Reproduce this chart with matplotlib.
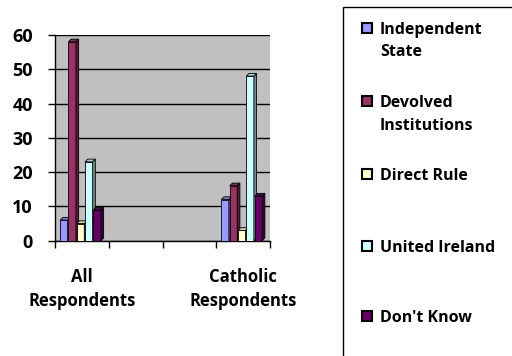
import matplotlib
matplotlib.use("Agg")
import matplotlib.pyplot as plt
from matplotlib.patches import Polygon, Rectangle
import matplotlib.colors as mcolors
import numpy as np

categories = ["All\nRespondents", "", "", "Catholic\nRespondents"]
series = ["Independent\nState", "Devolved\nInstitutions", "Direct Rule", "United Ireland", "Don't Know"]
values = {
    "Independent\nState":     [6, 0, 0, 12],
    "Devolved\nInstitutions": [58, 0, 0, 16],
    "Direct Rule":            [5, 0, 0, 3],
    "United Ireland":         [23, 0, 0, 48],
    "Don't Know":             [9, 0, 0, 13],
}
colors = ["#9999FF", "#993366", "#FFFFCC", "#CCFFFF", "#660066"]
yticks = [0, 10, 20, 30, 40, 50, 60]

FONT = "Open Sans"
fig = plt.figure(figsize=(5.12, 3.56), dpi=100)
ax = fig.add_axes([55/512, 1-240.7/356, 215/512, 205.7/356])
ax.set_facecolor("#C0C0C0")

x = np.arange(len(categories))
w = 0.14
step = 0.155
dx, dy = 0.05, 0.8

def darker(c, f):
    r, g, b = mcolors.to_rgb(c)
    return (r*f, g*f, b*f)

for i, s in enumerate(series):
    vals = values[s]
    xs = x + (i-2)*step - 0.025
    for xi, h, present in zip(xs, vals, [True, False, False, True]):
        if not present:
            continue
        ax.bar(xi, h, width=w, color=colors[i], edgecolor="black", linewidth=0.6, zorder=3+i)
        l, r = xi - w/2, xi + w/2
        side = Polygon([(r, 0), (r, h), (r+dx, h+dy), (r+dx, dy)], closed=True,
                       facecolor=darker(colors[i], 0.55), edgecolor="black", linewidth=0.6, zorder=3+i)
        top = Polygon([(l, h), (r, h), (r+dx, h+dy), (l+dx, h+dy)], closed=True,
                      facecolor=darker(colors[i], 0.8), edgecolor="black", linewidth=0.6, zorder=3+i)
        ax.add_patch(side)
        ax.add_patch(top)

ax.set_xlim(-0.5, len(categories)-0.5)
ax.set_ylim(0, 60)
ax.set_yticks(yticks)
ax.yaxis.grid(True, color="black", linewidth=1.0, zorder=1)
ax.set_axisbelow(True)
ax.set_xticks(np.arange(len(categories)+1) - 0.5)
ax.set_xticklabels([])
ax.set_xticks(x, minor=True)
ax.set_xticklabels(categories, minor=True, fontsize=12, fontweight="bold", family=FONT,
                   linespacing=1.4)
ax.tick_params(axis="x", which="minor", length=0, pad=20)
ax.tick_params(axis="x", which="major", length=5, width=1, direction="out")
ax.tick_params(axis="y", length=5, width=1, direction="out", pad=11, labelsize=13)
for lab in ax.get_yticklabels():
    lab.set_fontweight("bold")
    lab.set_family(FONT)
for sp in ["top", "right"]:
    ax.spines[sp].set_visible(False)
ax.spines["left"].set_linewidth(1)
ax.spines["bottom"].set_linewidth(1)

# legend box
fig.patches.append(Rectangle((343/512, -0.1), 0.5, 1.1 - 7/356, transform=fig.transFigure,
                             facecolor="white", edgecolor="black", linewidth=1, zorder=0))
ys = [27.5, 101, 174, 246, 316]
for s, c, yp in zip(series, colors, ys):
    fig.patches.append(Rectangle((362/512, 1-(yp+5)/356), 10/512, 10/356, transform=fig.transFigure,
                                 facecolor=c, edgecolor="black", linewidth=1.5))
    fig.text(380/512, 1-(yp-6)/356, s, fontsize=11.5, fontweight="bold", family=FONT,
             va="top", ha="left", linespacing=1.55)

fig.savefig("out.png", dpi=100)
